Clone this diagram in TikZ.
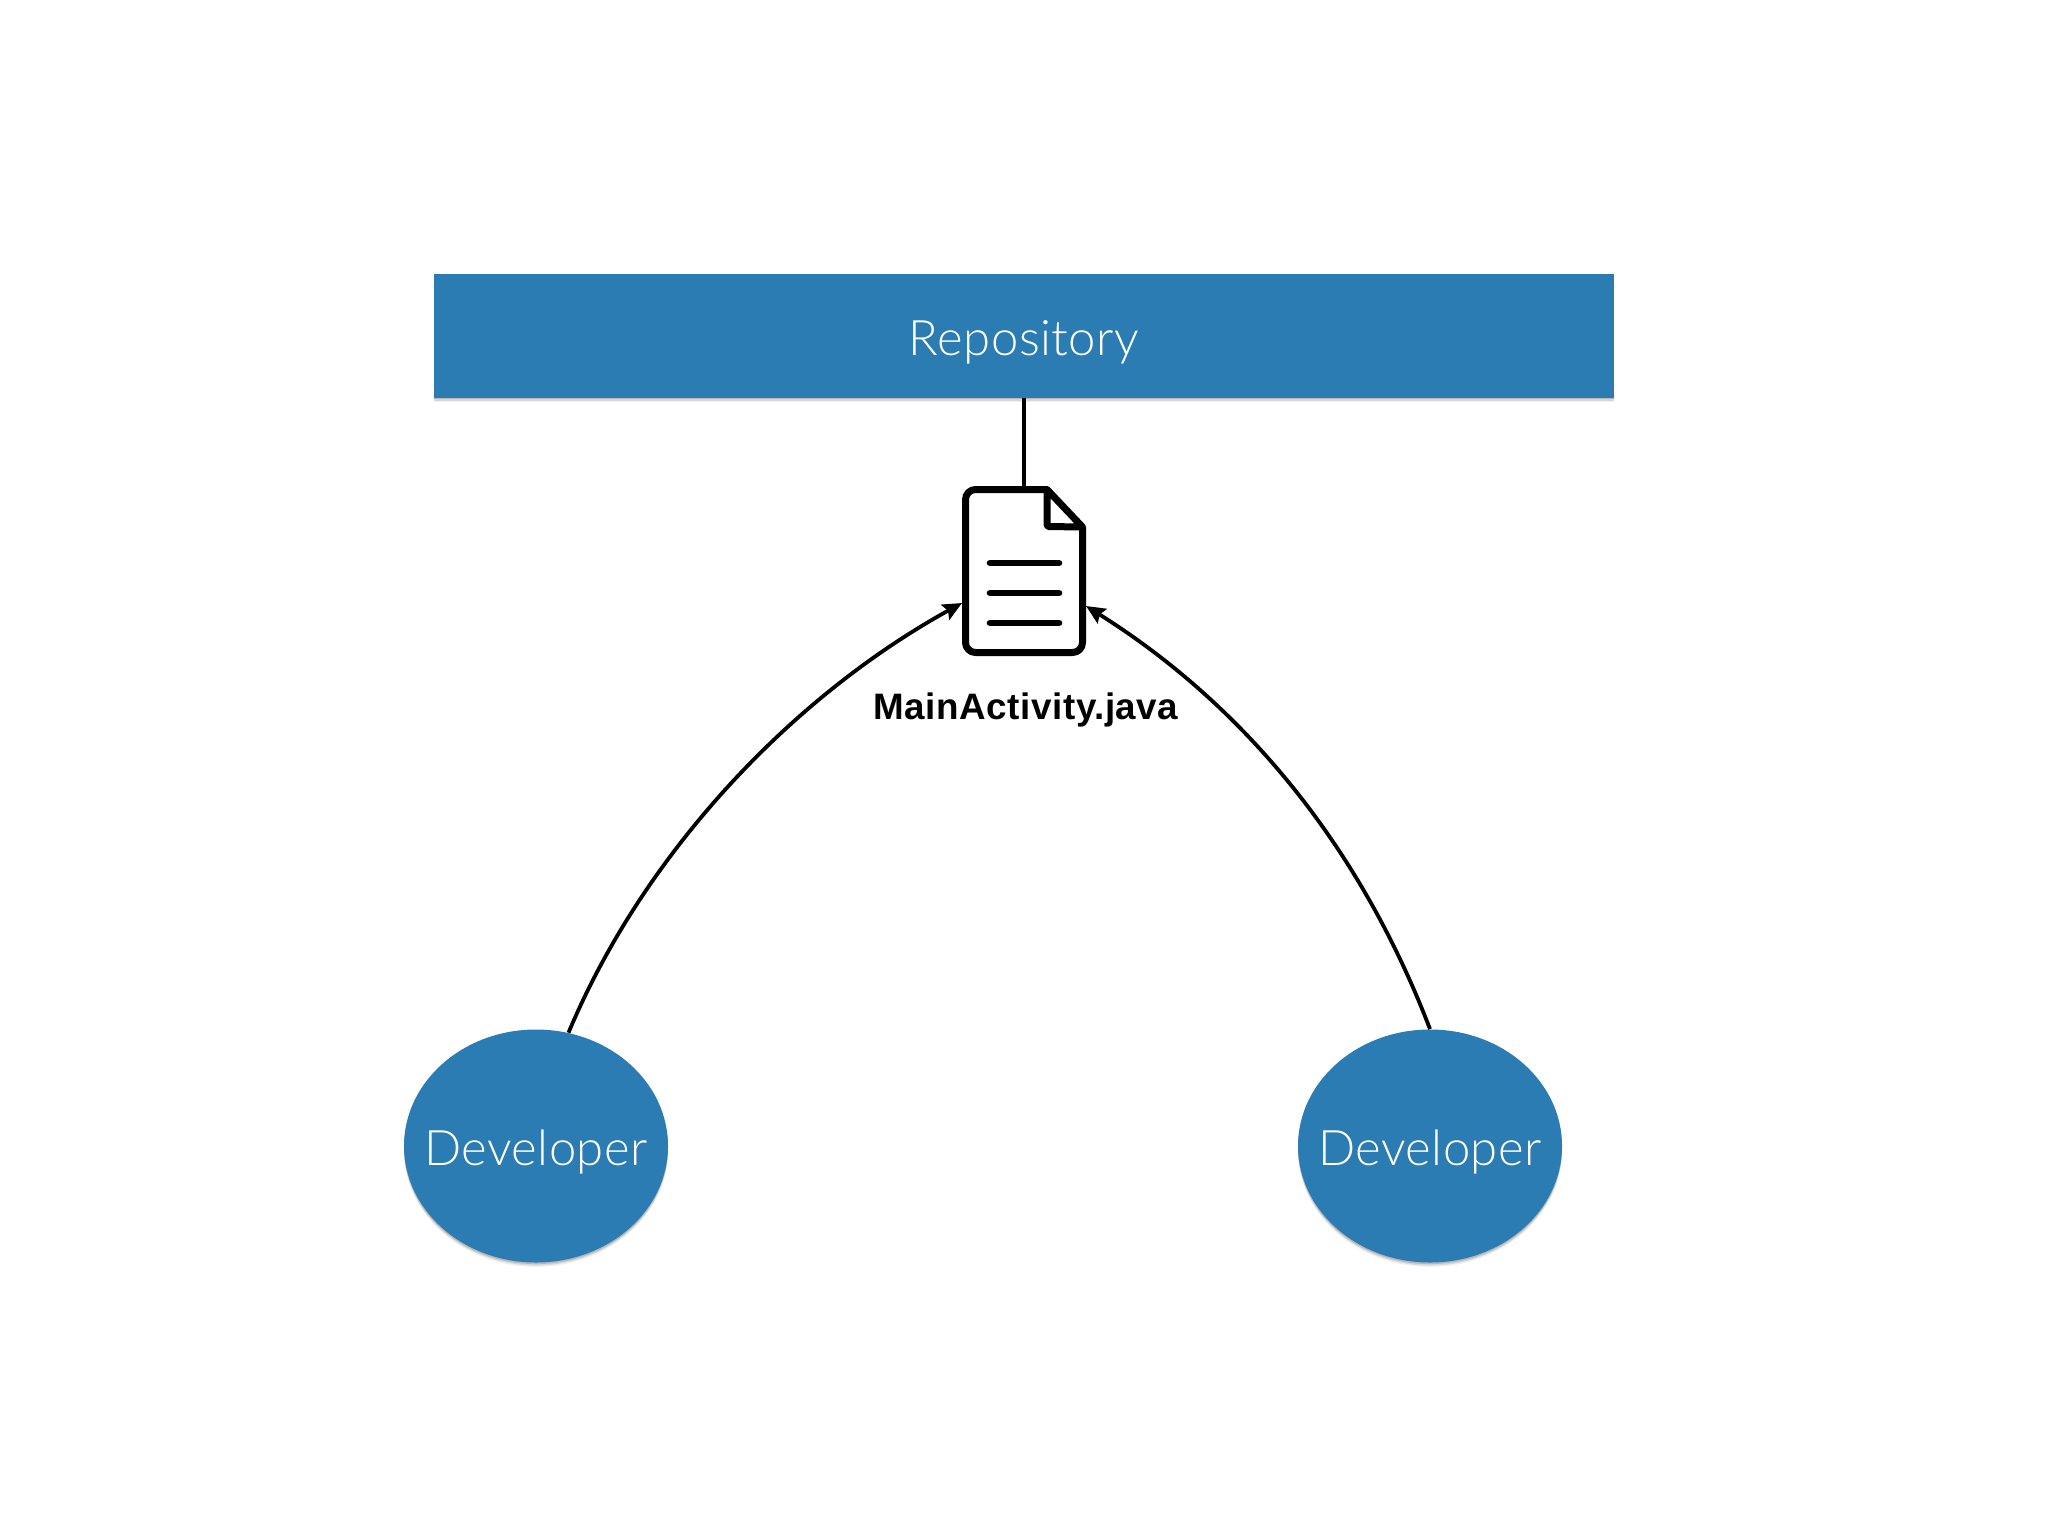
\documentclass[tikz,border=0pt]{standalone}
\usepackage{fontspec}
\setmainfont{Liberation Sans}
\newfontfamily\lightfont[LetterSpace=1]{Lato Light}
\newfontfamily\labelfont[LetterSpace=1.5]{Liberation Sans Bold}
\usetikzlibrary{shapes.geometric,arrows.meta,shadows}
\definecolor{repoblue}{HTML}{2B7CB3}
\tikzset{
  softshadow/.style={
    drop shadow={shadow xshift=0pt,shadow yshift=-2.2pt,opacity=.06,fill=black},
    drop shadow={shadow xshift=0pt,shadow yshift=-1.5pt,opacity=.10,fill=black},
    drop shadow={shadow xshift=0pt,shadow yshift=-0.8pt,opacity=.14,fill=black}},
  bluebox/.style={fill=repoblue,text=white,inner sep=0pt,softshadow,font=\lightfont\fontsize{24.5}{28}\selectfont},
  repobox/.style={bluebox,rectangle,minimum width=590pt,minimum height=61.75pt,text height=19.5pt,text depth=0pt},
  devbox/.style={bluebox,ellipse,minimum width=132pt,minimum height=116.5pt,text height=19pt,text depth=0pt},
  docslot/.style={rectangle,inner sep=0pt,minimum width=62pt,minimum height=85pt},
  docline/.style={line width=3.5pt,line join=round,line cap=round,rounded corners=5pt},
  foldline/.style={line width=3.5pt,line join=round,line cap=round,rounded corners=0.8pt},
  docbar/.style={line width=3.3pt,line cap=round},
  conn/.style={line width=1.9pt},
  arrowconn/.style={conn,-{Stealth[length=9.5pt,width=8.5pt,inset=1.5pt]}},
  filelabel/.style={font=\labelfont\fontsize{18.4}{21}\selectfont,inner sep=0pt,anchor=base}
}
\begin{document}
\begin{tikzpicture}[x=0.5pt,y=-0.5pt]
\useasboundingbox (0,0) rectangle (2048,1536);
\fill[white] (0,0) rectangle (2048,1536);
\node[repobox] (repo) at (1024,335.75) {Repository};
\node[devbox] (devA) at (536,1146) {\makebox[0pt]{Developer}};
\node[devbox] (devB) at (1430,1146) {\makebox[0pt]{Developer}};
\node[docslot] (doc) at (1024,571) {};
% file icon
\draw[docline] (1047,489.5) -- (965.5,489.5) -- (965.5,652.5) -- (1082.5,652.5) -- (1082.5,527);
\draw[foldline] (1082.5,527) -- (1047,489.5) -- (1047,526.5) -- cycle;
\draw[docbar] (990,563) -- (1059,563);
\draw[docbar] (990,593) -- (1059,593);
\draw[docbar] (990,623) -- (1059,623);
\node[filelabel] (file) at (1026,719) {MainActivity.java};
\coordinate (inA) at (962,603);
\coordinate (inB) at (1086,606);
\draw[conn] (repo.south) -- (doc.north);
\draw[arrowconn] (devA.74) .. controls (645,850) and (795,695) .. (inA);
\draw[arrowconn] (devB.90) .. controls (1350,820) and (1220,690) .. (inB);
\end{tikzpicture}
\end{document}
